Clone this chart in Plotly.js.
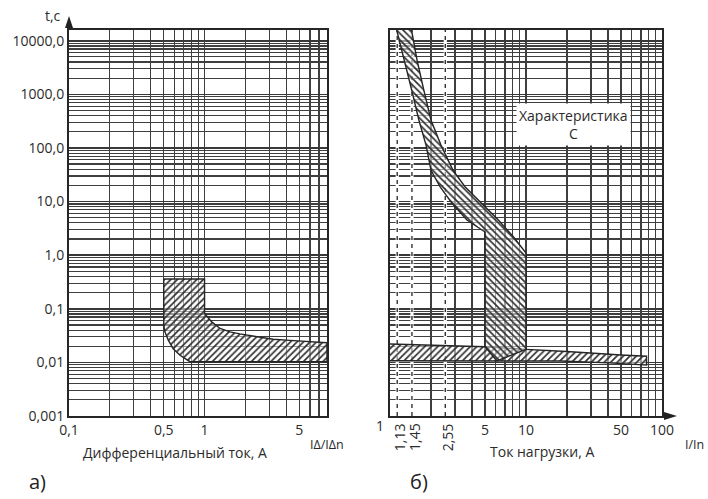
<!DOCTYPE html>
<html><head><meta charset="utf-8">
<script src="https://cdn.plot.ly/plotly-3.0.1.min.js"></script>
<style>html,body{margin:0;padding:0;background:#fff;}#chart{width:708px;height:499px;}</style>
</head><body><div id="chart"></div>
<script>
// ---------- tick labels ----------
const yTickVals = [0.001, 0.01, 0.1, 1, 10, 100, 1000, 10000];
const yTickText = ['0,001', '0,01', '0,1', '1,0', '10,0', '100,0', '1000,0', '10000,0'];
const rcdTickVals = [0.1, 0.5, 1, 5];
const rcdTickText = ['0,1', '0,5', '1', '5'];
const loadTickVals = [5, 10, 50, 100];
const loadTickText = ['5', '10', '50', '100'];
const markedCurrents = [1.13, 1.45, 2.55];
const markedLabels = ['1,13', '1,45', '2,55'];

// ---------- a) RCD trip zone ----------
const rcdUpperX = [0.5, 1, 1, 1.13, 1.3, 1.54, 1.82, 2.42, 3.21, 4.27, 5.66, 8];
const rcdUpperY = [0.36, 0.36, 0.082, 0.057, 0.043, 0.037, 0.034, 0.030, 0.027, 0.0257, 0.0246, 0.0232];
const rcdLowerX = [0.5, 0.5, 0.51, 0.54, 0.587, 0.659, 0.78, 8];
const rcdLowerY = [0.36, 0.05, 0.037, 0.026, 0.018, 0.0136, 0.0103, 0.0103];

// ---------- б) characteristic C ----------
const thermLowerX = [1.12, 1.27, 1.45, 1.63, 1.84, 2.0, 2.33, 2.86, 3.68, 5];
const thermLowerY = [15849, 4370, 1150, 332, 113, 38.7, 18.9, 9.27, 4.52, 2.7];
const thermUpperX = [1.44, 1.58, 1.78, 2.0, 2.37, 2.9, 3.56, 4.72, 6.26, 8.07, 9.55, 10];
const thermUpperY = [15849, 4370, 1150, 332, 113, 38.7, 18.9, 9.27, 4.52, 2.21, 1.25, 1.1];
const magBottomX = [10, 6.1, 5];
const magBottomY = [0.0175, 0.0107, 0.0196];
const bandTopX = [1, 5, 10, 20, 50, 77];
const bandTopY = [0.022, 0.0196, 0.0175, 0.016, 0.0137, 0.013];
const bandBottomX = [1, 6, 18, 41, 77];
const bandBottomY = [0.0107, 0.0107, 0.0106, 0.0098, 0.0089];

const yMin = 0.001, yMax = Math.pow(10, 4.2);

function logGrid(lo, hi) {
  const v = [];
  for (let e = lo; e < hi; e++) for (let k = 1; k <= 9; k++) v.push(k * Math.pow(10, e));
  v.push(Math.pow(10, hi));
  return v;
}
const gridColor = '#3f3f3f';
const lineColor = '#262626';
const txt = '#2b2b2b';
const FONT = 'Open Sans, Noto Sans, sans-serif';

function hatch(shape) {
  return {shape: shape, fgcolor: '#2e2e2e', bgcolor: 'rgba(255,255,255,0.5)', size: 4.6, solidity: 0.36};
}

const traces = [];
traces.push({
  x: rcdUpperX.concat(rcdLowerX.slice().reverse()),
  y: rcdUpperY.concat(rcdLowerY.slice().reverse()),
  xaxis: 'x', yaxis: 'y', mode: 'lines', fill: 'toself',
  line: {color: lineColor, width: 1.4}, fillpattern: hatch('/'), hoverinfo: 'skip', showlegend: false
});
markedCurrents.forEach(v => {
  traces.push({x: [v, v], y: [yMin, yMax], xaxis: 'x2', yaxis: 'y2', mode: 'lines',
    line: {color: '#ffffff', width: 3.2}, hoverinfo: 'skip', showlegend: false});
  traces.push({x: [v, v], y: [yMin, yMax], xaxis: 'x2', yaxis: 'y2', mode: 'lines',
    line: {color: '#333', width: 1.4, dash: '4px,4px'}, hoverinfo: 'skip', showlegend: false});
});
traces.push({
  x: bandTopX.concat(bandBottomX.slice().reverse()),
  y: bandTopY.concat(bandBottomY.slice().reverse()),
  xaxis: 'x2', yaxis: 'y2', mode: 'lines', fill: 'toself',
  line: {color: lineColor, width: 1.4}, fillpattern: hatch('/'), hoverinfo: 'skip', showlegend: false
});
traces.push({
  x: thermUpperX.concat(magBottomX, thermLowerX.slice().reverse()),
  y: thermUpperY.concat(magBottomY, thermLowerY.slice().reverse()),
  xaxis: 'x2', yaxis: 'y2', mode: 'lines', fill: 'toself',
  line: {color: lineColor, width: 1.4}, fillpattern: hatch('\\'), hoverinfo: 'skip', showlegend: false
});

function xAxis(domain, range, tv, tt, anchor) {
  return {
    type: 'log', domain: domain, range: range, anchor: anchor,
    tickmode: 'array', tickvals: tv, ticktext: tt, ticks: '',
    tickfont: {size: 14, color: txt, family: FONT},
    showgrid: true, gridcolor: gridColor, gridwidth: 1.3,
    minor: {tickmode: 'array', tickvals: logGrid(-2, 3), showgrid: true, gridcolor: gridColor, gridwidth: 1.3, ticks: ''},
    showline: true, linecolor: lineColor, linewidth: 2, mirror: true, zeroline: false, fixedrange: true
  };
}
function yAxis(anchor, labels) {
  return {
    type: 'log', range: [-3, 4.2], anchor: anchor,
    tickmode: 'array', tickvals: yTickVals, ticktext: yTickText, ticks: '',
    showticklabels: labels, tickfont: {size: 14, color: txt, family: FONT},
    showgrid: true, gridcolor: '#383838', gridwidth: 1.6,
    minor: {tickmode: 'array', tickvals: logGrid(-3, 5), showgrid: true, gridcolor: gridColor, gridwidth: 1.2, ticks: ''},
    showline: true, linecolor: lineColor, linewidth: 2, mirror: true, zeroline: false, fixedrange: true
  };
}

const W = 593, H = 386;
const px = v => (v - 69) / W;
const py = v => (416 - v) / H;
function note(text, x, y, size, extra) {
  return Object.assign({text: text, xref: 'paper', yref: 'paper', x: px(x), y: py(y),
    xanchor: 'center', yanchor: 'middle', showarrow: false, font: {size: size}}, extra || {});
}

const annotations = [
  note('t,c', 53, 15, 14),
  note('Дифференциальный ток, А', 175, 453, 14),
  note('IΔ/IΔn', 327, 444, 12.5),
  note('Ток нагрузки, А', 542, 452, 14),
  note('I/In', 694, 444, 12.5),
  note('а)', 37, 481, 20, {font: {size: 20, color: '#222'}}),
  note('б)', 419, 481, 20, {font: {size: 20, color: '#222'}}),
  note('1', 380, 425, 14),
  {text: 'Характеристика<br>С', xref: 'x2', yref: 'y2', x: 1.3456, y: 2.43, xanchor: 'center', yanchor: 'middle',
   showarrow: false, bgcolor: '#ffffff', borderpad: 2, font: {size: 14}}
];
markedCurrents.forEach((v, i) => {
  annotations.push({text: markedLabels[i], xref: 'x2', yref: 'paper', x: Math.log10(v), y: py(437),
    xanchor: 'center', yanchor: 'middle', xshift: 2, textangle: -90, showarrow: false, font: {size: 14}});
});

const shapes = [
  {type: 'line', xref: 'paper', yref: 'paper', x0: 0, x1: 0, y0: 1, y1: py(22), line: {color: lineColor, width: 2}},
  {type: 'path', xref: 'paper', yref: 'paper',
   path: `M ${px(69)},${py(16)} L ${px(65)},${py(28)} L ${px(73)},${py(28)} Z`, fillcolor: '#222', line: {width: 0}},
  {type: 'line', xref: 'paper', yref: 'paper', x0: 1, x1: px(668), y0: 0, y1: 0, line: {color: lineColor, width: 2}},
  {type: 'path', xref: 'paper', yref: 'paper',
   path: `M ${px(677)},${py(416)} L ${px(664)},${py(412)} L ${px(664)},${py(420)} Z`, fillcolor: '#222', line: {width: 0}}
];

const layout = {
  width: 708, height: 499,
  margin: {l: 69, r: 46, t: 30, b: 83},
  paper_bgcolor: '#fff', plot_bgcolor: '#fff',
  font: {family: FONT, color: txt, size: 14},
  showlegend: false,
  xaxis: xAxis([0, 258 / W], [-1, Math.log10(8)], rcdTickVals, rcdTickText, 'y'),
  yaxis: yAxis('x', true),
  xaxis2: xAxis([321 / W, 1], [0, 2], loadTickVals, loadTickText, 'y2'),
  yaxis2: Object.assign(yAxis('x2', false), {matches: 'y'}),
  annotations: annotations,
  shapes: shapes
};

Plotly.newPlot('chart', traces, layout, {staticPlot: true, displayModeBar: false});
</script>
</body></html>
